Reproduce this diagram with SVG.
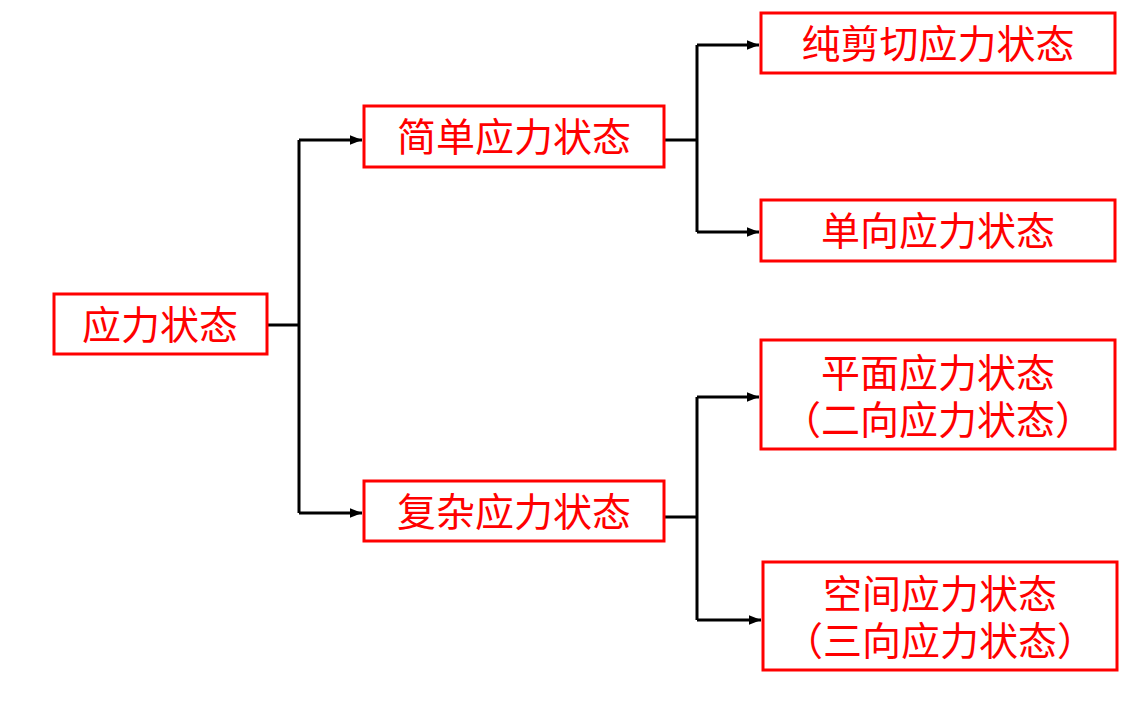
<svg xmlns="http://www.w3.org/2000/svg" width="1144" height="718" viewBox="0 0 1144 718">
<style>
.b{fill:#fff;stroke:#f00;stroke-width:3}
.t{font-family:"Liberation Sans","Noto Sans CJK SC",sans-serif;font-size:39px;fill:#f00;text-anchor:middle}
.c{fill:none;stroke:#000;stroke-width:3}
</style>
<defs><marker id="a" viewBox="0 0 10 10" refX="10" refY="5" markerWidth="4" markerHeight="4" orient="auto" markerUnits="strokeWidth"><path d="M0,1 L10,5 L0,9 z" fill="#000"/></marker></defs>
<rect width="1144" height="718" fill="#fff"/>
<g id="connectors">
<path class="c" d="M267,325 H299 M299,140 V513"/>
<path class="c" d="M299,140 H362" marker-end="url(#a)"/>
<path class="c" d="M299,513 H362" marker-end="url(#a)"/>
<path class="c" d="M664,140 H697 M697,45 V232"/>
<path class="c" d="M697,45 H759" marker-end="url(#a)"/>
<path class="c" d="M697,232 H759" marker-end="url(#a)"/>
<path class="c" d="M664,517 H697 M697,397 V620"/>
<path class="c" d="M697,397 H759" marker-end="url(#a)"/>
<path class="c" d="M697,620 H761" marker-end="url(#a)"/>
</g>
<g id="n1"><rect class="b" x="54" y="294" width="213" height="60"/><text class="t" x="160" y="339">应力状态</text></g>
<g id="n2"><rect class="b" x="364" y="106" width="300" height="61"/><text class="t" x="514" y="151">简单应力状态</text></g>
<g id="n3"><rect class="b" x="364" y="481" width="300" height="60"/><text class="t" x="514" y="526">复杂应力状态</text></g>
<g id="n4"><rect class="b" x="761" y="13" width="354" height="60"/><text class="t" x="938" y="58">纯剪切应力状态</text></g>
<g id="n5"><rect class="b" x="761" y="200" width="354" height="61"/><text class="t" x="938" y="245">单向应力状态</text></g>
<g id="n6"><rect class="b" x="761" y="340" width="354" height="109"/><text class="t" x="938" y="387">平面应力状态</text><text class="t" x="938" y="434">（二向应力状态）</text></g>
<g id="n7"><rect class="b" x="763" y="562" width="354" height="108"/><text class="t" x="940" y="608">空间应力状态</text><text class="t" x="940" y="655">（三向应力状态）</text></g>
</svg>
